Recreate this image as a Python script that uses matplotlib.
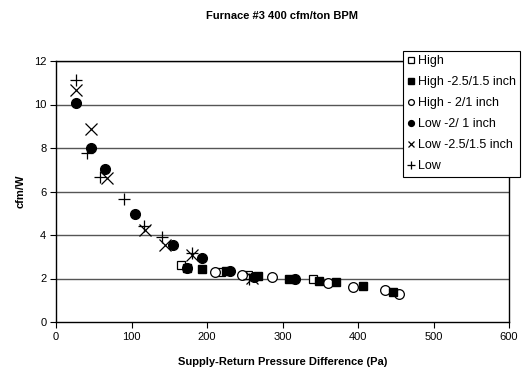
import matplotlib
matplotlib.use("Agg")
import matplotlib.pyplot as plt

plt.rcParams['font.family'] = ['Liberation Sans', 'DejaVu Sans']

title = "Furnace #3 400 cfm/ton BPM"
x_label = "Supply-Return Pressure Difference (Pa)"
y_label = "cfm/W"

# Pressure difference (Pa) and efficiency (cfm/W) for each test condition
high_x = [165, 219, 254, 340]
high_y = [2.62, 2.31, 2.17, 1.96]

high_25_x = [174, 194, 225, 267, 309, 349, 371, 406, 447]
high_25_y = [2.48, 2.43, 2.33, 2.13, 1.98, 1.90, 1.86, 1.64, 1.40]

high_2_x = [210, 247, 286, 360, 393, 436, 454]
high_2_y = [2.32, 2.16, 2.05, 1.80, 1.63, 1.45, 1.30]

low_2_x = [26.5, 46, 65, 104, 155, 193, 173, 231, 262, 316]
low_2_y = [10.07, 7.99, 7.05, 4.95, 3.55, 2.93, 2.50, 2.36, 2.05, 1.97]

low_25_x = [26.5, 46, 68, 118, 145, 180, 260]
low_25_y = [10.67, 8.86, 6.60, 4.22, 3.52, 3.10, 2.02]

low_x = [26.5, 41, 58, 90, 117, 140, 180, 256]
low_y = [11.12, 7.79, 6.68, 5.66, 4.41, 3.92, 3.15, 1.97]

labels = ["High", "High -2.5/1.5 inch", "High - 2/1 inch",
          "Low -2/ 1 inch", "Low -2.5/1.5 inch", "Low"]

fig = plt.figure(figsize=(5.25, 3.79), dpi=100)
ax = fig.add_axes([56 / 525, 1 - 322 / 379, 453 / 525, 261 / 379])

ax.set_xlim(0, 600)
ax.set_ylim(0, 12)
ax.set_xticks(range(0, 601, 100))
ax.set_yticks(range(0, 13, 2))
for yv in range(2, 13, 2):
    ax.axhline(yv, color='#555555', lw=1.0, zorder=1)

ms_c = 7.0
ms_s = 6.2
ax.plot(high_x, high_y, ls='none', marker='s', ms=ms_s, mfc='white', mec='black', mew=0.9, label=labels[0], zorder=3)
ax.plot(high_25_x, high_25_y, ls='none', marker='s', ms=ms_s, mfc='black', mec='black', label=labels[1], zorder=4)
ax.plot(high_2_x, high_2_y, ls='none', marker='o', ms=ms_c, mfc='white', mec='black', mew=0.9, label=labels[2], zorder=3)
ax.plot(low_2_x, low_2_y, ls='none', marker='o', ms=ms_c, mfc='black', mec='black', label=labels[3], zorder=3)
ax.plot(low_25_x, low_25_y, ls='none', marker='x', ms=8, mec='black', mew=0.9, label=labels[4], zorder=5)
ax.plot(low_x, low_y, ls='none', marker='+', ms=9, mec='black', mew=0.9, label=labels[5], zorder=5)

for s in ax.spines.values():
    s.set_color('black')
    s.set_linewidth(1.0)
ax.tick_params(direction='out', length=4, width=0.8, labelsize=8, pad=3)

ax.set_title(title, fontsize=8, fontweight='bold', pad=30)
ax.set_xlabel(x_label, fontsize=8, fontweight='bold', labelpad=11)
ax.set_ylabel(y_label, fontsize=8, fontweight='bold', labelpad=6)

leg = ax.legend(loc='upper left', bbox_to_anchor=(403 / 525, 1 - 51 / 379),
                bbox_transform=fig.transFigure, fontsize=9, frameon=True,
                fancybox=False, edgecolor='black', framealpha=1,
                markerscale=0.6, handlelength=0.6, handletextpad=0.25,
                borderpad=0.35, labelspacing=0.72, borderaxespad=0)
leg.get_frame().set_linewidth(0.8)
leg.set_zorder(10)

fig.savefig("out.png", dpi=100)
